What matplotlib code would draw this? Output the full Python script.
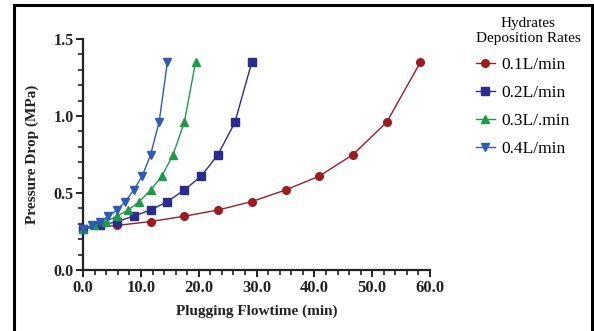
import matplotlib.pyplot as plt
from matplotlib.patches import Rectangle
from matplotlib.ticker import MultipleLocator, FormatStrFormatter

plt.rcParams['font.family'] = ['Liberation Serif', 'DejaVu Serif']

# pressure drop readings (MPa), shared point index along each run
t_01 = [0.0, 5.83, 11.67, 17.5, 23.33, 29.17, 35.0, 40.83, 46.67, 52.5, 58.33]
t_02 = [0.0, 2.92, 5.83, 8.75, 11.67, 14.58, 17.5, 20.42, 23.33, 26.25, 29.17]
t_03 = [0.0, 1.94, 3.89, 5.83, 7.78, 9.72, 11.67, 13.61, 15.56, 17.5, 19.44]
t_04 = [0.0, 1.46, 2.92, 4.38, 5.83, 7.29, 8.75, 10.21, 11.67, 13.13, 14.58]

dp_01 = [0.27, 0.29, 0.315, 0.35, 0.39, 0.445, 0.52, 0.61, 0.75, 0.96, 1.35]
dp_02 = [0.27, 0.29, 0.315, 0.35, 0.39, 0.445, 0.52, 0.61, 0.75, 0.96, 1.35]
dp_03 = [0.27, 0.29, 0.315, 0.35, 0.39, 0.445, 0.52, 0.61, 0.75, 0.96, 1.35]
dp_04 = [0.27, 0.29, 0.315, 0.35, 0.39, 0.445, 0.52, 0.61, 0.75, 0.96, 1.35]

labels = ['0.1L/min', '0.2L/min', '0.3L/.min', '0.4L/min']
colors = ['#9c1c22', '#2b2d8c', '#1f9a4a', '#2e5bb5']
markers = ['o', 's', '^', 'v']

fig = plt.figure(figsize=(5.94, 3.31), dpi=100)
ax = fig.add_axes([0.14, 0.184, 0.584, 0.698])

series = [(t_01, dp_01), (t_02, dp_02), (t_03, dp_03), (t_04, dp_04)]
for (x, y), lab, c, m in zip(series, labels, colors, markers):
    ax.plot(x, y, color=c, marker=m, markersize=5.5, linewidth=1.0,
            label=lab, clip_on=False, zorder=3)

ax.set_xlim(0, 60)
ax.set_ylim(0, 1.5)
ax.xaxis.set_major_locator(MultipleLocator(10))
ax.xaxis.set_minor_locator(MultipleLocator(2))
ax.yaxis.set_major_locator(MultipleLocator(0.5))
ax.yaxis.set_minor_locator(MultipleLocator(0.1))
ax.xaxis.set_major_formatter(FormatStrFormatter('%.1f'))
ax.yaxis.set_major_formatter(FormatStrFormatter('%.1f'))

for side in ['top', 'right']:
    ax.spines[side].set_visible(False)
for side in ['left', 'bottom']:
    ax.spines[side].set_linewidth(1.6)
    ax.spines[side].set_color('#222222')

ax.tick_params(which='major', length=5, width=1.4, color='#222222', pad=2)
ax.tick_params(which='minor', length=3.5, width=1.2, color='#222222')
ax.tick_params(axis='x', labelsize=12)
ax.tick_params(axis='y', labelsize=11.5)
for lbl in ax.get_xticklabels() + ax.get_yticklabels():
    lbl.set_fontweight('bold')
    lbl.set_color('#222222')

ax.set_xlabel('Plugging Flowtime (min)', fontsize=11, fontweight='bold',
              color='#222222', labelpad=6)
ax.set_ylabel('Pressure Drop (MPa)', fontsize=11, fontweight='bold',
              color='#222222', labelpad=10)

leg = fig.legend(loc='upper left', bbox_to_anchor=(0.7745, 0.995),
                 frameon=False, fontsize=12.5, title='Hydrates\nDeposition Rates',
                 title_fontsize=11, handlelength=1.1, handletextpad=0.4,
                 labelspacing=0.68, alignment='left')
leg.get_title().set_multialignment('center')

# outer frame around the figure, open at the bottom edge
fig.patches.append(Rectangle((14 / 594, -0.05), 578 / 594, 1.05 - 5 / 331,
                             transform=fig.transFigure, fill=False,
                             edgecolor='black', linewidth=2.2, clip_on=False))

fig.savefig('out.png', dpi=100)
